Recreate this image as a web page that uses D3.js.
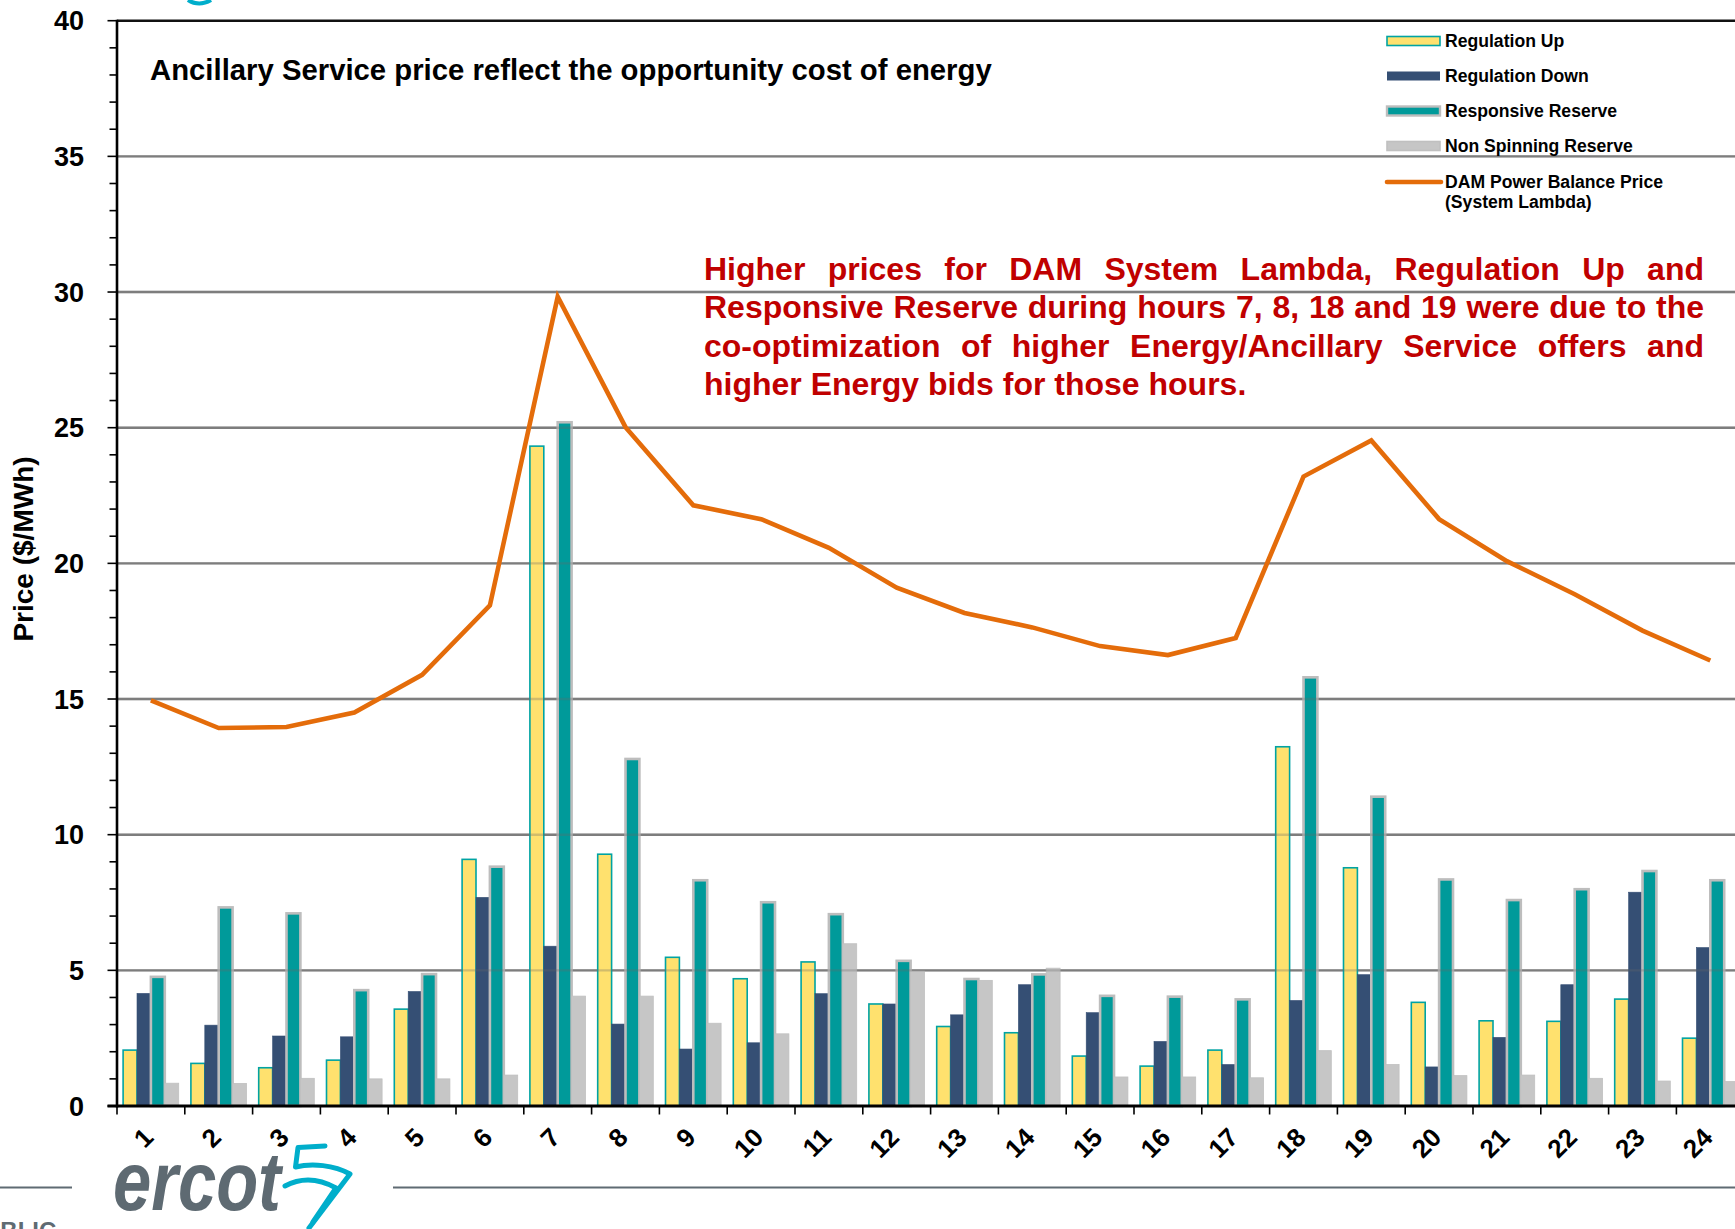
<!DOCTYPE html>
<html><head><meta charset="utf-8">
<script src="https://cdn.jsdelivr.net/npm/d3@7"></script>
<style>
body{margin:0;background:#fff;}
svg{display:block;font-family:"Liberation Sans",Arial,Helvetica,sans-serif;}
</style>
</head><body>
<svg id="chart" width="1735" height="1229"></svg>
<script>
// ---------------- DATA ----------------
const hours = ["1","2","3","4","5","6","7","8","9","10","11","12","13","14","15","16","17","18","19","20","21","22","23","24"];
const regulationUp = [2.06,1.57,1.41,1.69,3.57,9.09,24.32,9.28,5.48,4.69,5.31,3.76,2.93,2.70,1.84,1.47,2.06,13.24,8.78,3.82,3.14,3.12,3.94,2.50];
const regulationDown = [4.15,2.98,2.58,2.55,4.22,7.69,5.89,3.02,2.10,2.33,4.14,3.76,3.36,4.47,3.44,2.38,1.53,3.89,4.84,1.44,2.53,4.47,7.88,5.84];
const responsiveReserve = [4.76,7.32,7.10,4.27,4.86,8.82,25.20,12.79,8.32,7.51,7.07,5.35,4.68,4.85,4.06,4.03,3.93,15.80,11.40,8.35,7.59,7.99,8.66,8.32];
const nonSpinningReserve = [0.84,0.83,1.02,1.00,1.00,1.14,4.05,4.05,3.05,2.66,5.98,4.97,4.63,5.08,1.07,1.07,1.04,2.04,1.53,1.12,1.14,1.02,0.92,0.90];
const systemLambda = [14.95,13.93,13.97,14.50,15.89,18.45,29.83,25.02,22.14,21.63,20.57,19.10,18.17,17.64,16.95,16.62,17.25,23.20,24.53,21.63,20.08,18.86,17.52,16.42];
const yTickValues = [0,5,10,15,20,25,30,35,40];
const seriesNames = ["Regulation Up","Regulation Down","Responsive Reserve","Non Spinning Reserve"];
const lineName = ["DAM Power Balance Price","(System Lambda)"];
const titleText = "Ancillary Service price reflect the opportunity cost of energy";
const yLabel = "Price ($/MWh)";
const noteLines = [
  "Higher prices for DAM System Lambda, Regulation Up and",
  "Responsive Reserve during hours 7, 8, 18 and 19 were due to the",
  "co-optimization of higher Energy/Ancillary Service offers and",
  "higher Energy bids for those hours."
];

// ---------------- STYLES ----------------
const seriesData = [regulationUp, regulationDown, responsiveReserve, nonSpinningReserve];
const fills   = ["#FFE16E","#354F74","#009A9A","#C6C6C6"];
const strokes = ["#00A3A3","#354F74","#BDBDBD","#C0C0C0"];
const strokeW = [1.6,0.6,2.6,0.8];
const W = 1735, H = 1229;
const left = 117, topY = 20.7, bottomY = 1106, step = 67.8;

const svg = d3.select("#chart");
svg.append("rect").attr("width",W).attr("height",H).attr("fill","#fff");

const x0 = d3.scaleBand().domain(hours).range([left, left + step*hours.length]);
const bw = x0.bandwidth();
const x1 = d3.scaleBand().domain(seriesNames).range([bw*0.09, bw*0.91]);
const y = d3.scaleLinear().domain([0,40]).range([bottomY, topY]);

// gridlines (under)
const gridVals = yTickValues.filter(v => v>0 && v<40);
svg.append("g").selectAll("line").data(gridVals).join("line")
  .attr("x1",left).attr("x2",W).attr("y1",d=>y(d)).attr("y2",d=>y(d))
  .attr("stroke","#878787").attr("stroke-width",2.4);

// bars
const gBars = svg.append("g");
seriesNames.forEach((s,si)=>{
  gBars.append("g").selectAll("rect").data(seriesData[si]).join("rect")
    .attr("x",(d,i)=>x0(hours[i])+x1(s))
    .attr("y",d=>y(d))
    .attr("width",x1.bandwidth())
    .attr("height",d=>y(0)-y(d))
    .attr("fill",fills[si])
    .attr("stroke",strokes[si])
    .attr("stroke-width",strokeW[si]);
});

// gridline overlay (shows through bars)
svg.append("g").selectAll("line").data(gridVals).join("line")
  .attr("x1",left).attr("x2",W).attr("y1",d=>y(d)).attr("y2",d=>y(d))
  .attr("stroke","#666").attr("stroke-opacity",0.3).attr("stroke-width",2.4);

// lambda line
const line = d3.line().x((d,i)=>x0(hours[i])+bw/2).y(d=>y(d));
svg.append("path").datum(systemLambda).attr("d",line)
  .attr("fill","none").attr("stroke","#E46C0A").attr("stroke-width",4.6)
  .attr("stroke-linejoin","miter");

// top frame line
svg.append("line").attr("x1",left).attr("x2",W).attr("y1",y(40)).attr("y2",y(40))
  .attr("stroke","#111").attr("stroke-width",2.6);

// Y axis
const yAxis = svg.append("g");
yAxis.append("line").attr("x1",left).attr("x2",left).attr("y1",y(40)-1).attr("y2",y(0)+1.5)
  .attr("stroke","#000").attr("stroke-width",2.6);
yAxis.selectAll("line.t").data(d3.range(0,41)).join("line").attr("class","t")
  .attr("x1",d=> d%5===0 ? 107.5 : 109.5).attr("x2",left)
  .attr("y1",d=>y(d)).attr("y2",d=>y(d))
  .attr("stroke","#000").attr("stroke-width",1.6);
yAxis.selectAll("text").data(yTickValues).join("text")
  .attr("x",84).attr("y",d=>y(d)).attr("dy","0.36em")
  .attr("text-anchor","end").attr("font-size",27).attr("font-weight","bold")
  .attr("fill","#000").text(d=>d);

// X axis
const xAxis = svg.append("g");
xAxis.append("line").attr("x1",107.5).attr("x2",W).attr("y1",y(0)).attr("y2",y(0))
  .attr("stroke","#000").attr("stroke-width",3);
const bounds = hours.map(h=>x0(h)).concat([x0(hours[hours.length-1])+bw]);
xAxis.selectAll("line.t").data(bounds).join("line").attr("class","t")
  .attr("x1",d=>d).attr("x2",d=>d).attr("y1",y(0)).attr("y2",y(0)+8.5)
  .attr("stroke","#000").attr("stroke-width",1.6);
xAxis.selectAll("text").data(hours).join("text")
  .attr("transform",d=>`translate(${x0(d)+bw/2+4},1139) rotate(-45)`)
  .attr("text-anchor","end").attr("font-size",26).attr("font-weight","bold")
  .attr("fill","#000").text(d=>d);

// Y label
svg.append("text").attr("transform","translate(33,549) rotate(-90)")
  .attr("text-anchor","middle").attr("font-size",28).attr("font-weight","bold")
  .attr("fill","#000").text(yLabel);

// Title
svg.append("text").attr("x",150).attr("y",80).attr("font-size",29.3).attr("font-weight","bold")
  .attr("fill","#000").text(titleText);

// Annotation (justified)
const noteX0 = 704, noteX1 = 1704, noteY0 = 280, noteLH = 38.4;
const gNote = svg.append("g").attr("font-size",32).attr("font-weight","bold").attr("fill","#C00000");
noteLines.forEach((ln,li)=>{
  const words = ln.split(" ");
  const t = gNote.append("text").attr("y",noteY0+li*noteLH);
  if (li === noteLines.length-1) {
    t.attr("x",noteX0).text(ln);
    return;
  }
  const widths = words.map(w=>{
    const tmp = gNote.append("text").text(w);
    const wd = tmp.node().getComputedTextLength();
    tmp.remove();
    return wd;
  });
  const total = d3.sum(widths);
  const gap = (noteX1-noteX0-total)/(words.length-1);
  let cx = noteX0;
  words.forEach((w,wi)=>{
    t.append("tspan").attr("x",cx).text(w + (wi<words.length-1?" ":""));
    cx += widths[wi] + gap;
  });
});

// Legend
const lg = svg.append("g");
const legY = [41,76,111,146];
const swX = 1387, swW = 53, txX = 1445;
seriesNames.forEach((s,si)=>{
  lg.append("rect").attr("x",swX).attr("y",legY[si]-4.5).attr("width",swW).attr("height",9)
    .attr("fill",fills[si]).attr("stroke",strokes[si]).attr("stroke-width",si===1?0:(si===2?2.4:1.6));
  lg.append("text").attr("x",txX).attr("y",legY[si]+6).attr("font-size",17.6).attr("font-weight","bold")
    .attr("fill","#000").text(s);
});
lg.append("line").attr("x1",swX).attr("x2",swX+swW+1).attr("y1",182).attr("y2",182)
  .attr("stroke","#E46C0A").attr("stroke-width",4.6).attr("stroke-linecap","round");
lineName.forEach((t,i)=>{
  lg.append("text").attr("x",txX).attr("y",188+i*20).attr("font-size",17.6).attr("font-weight","bold")
    .attr("fill","#000").text(t);
});

// cyan fragment at very top (cropped slide title)
svg.append("path").attr("d","M188 0 Q199 7 211 0").attr("fill","none")
  .attr("stroke","#00AECB").attr("stroke-width",4);

// footer
const foot = svg.append("g");
foot.append("line").attr("x1",0).attr("x2",72).attr("y1",1187.5).attr("y2",1187.5)
  .attr("stroke","#5F6B73").attr("stroke-width",2);
foot.append("line").attr("x1",393).attr("x2",W).attr("y1",1187.5).attr("y2",1187.5)
  .attr("stroke","#5F6B73").attr("stroke-width",2);
foot.append("text").attr("x",113).attr("y",1210).attr("font-size",84).attr("font-style","italic")
  .attr("font-weight","bold").attr("fill","#5E6A72")
  .attr("textLength",168).attr("lengthAdjust","spacingAndGlyphs").text("ercot");
const logoPaths = [
  "M325 1146 L298 1147.5 L295.5 1167 C312 1163 334 1165 350 1174 L309 1228",
  "M285 1186 C300 1178 318 1178 336 1188 L313 1222"
];
foot.selectAll("path").data(logoPaths).join("path").attr("d",d=>d)
  .attr("fill","none").attr("stroke","#00AECB").attr("stroke-width",5)
  .attr("stroke-linejoin","round").attr("stroke-linecap","round");
foot.append("text").attr("x",-33).attr("y",1239).attr("font-size",24).attr("font-weight","bold")
  .attr("fill","#5F6B73").text("PUBLIC");
</script>
</body></html>
